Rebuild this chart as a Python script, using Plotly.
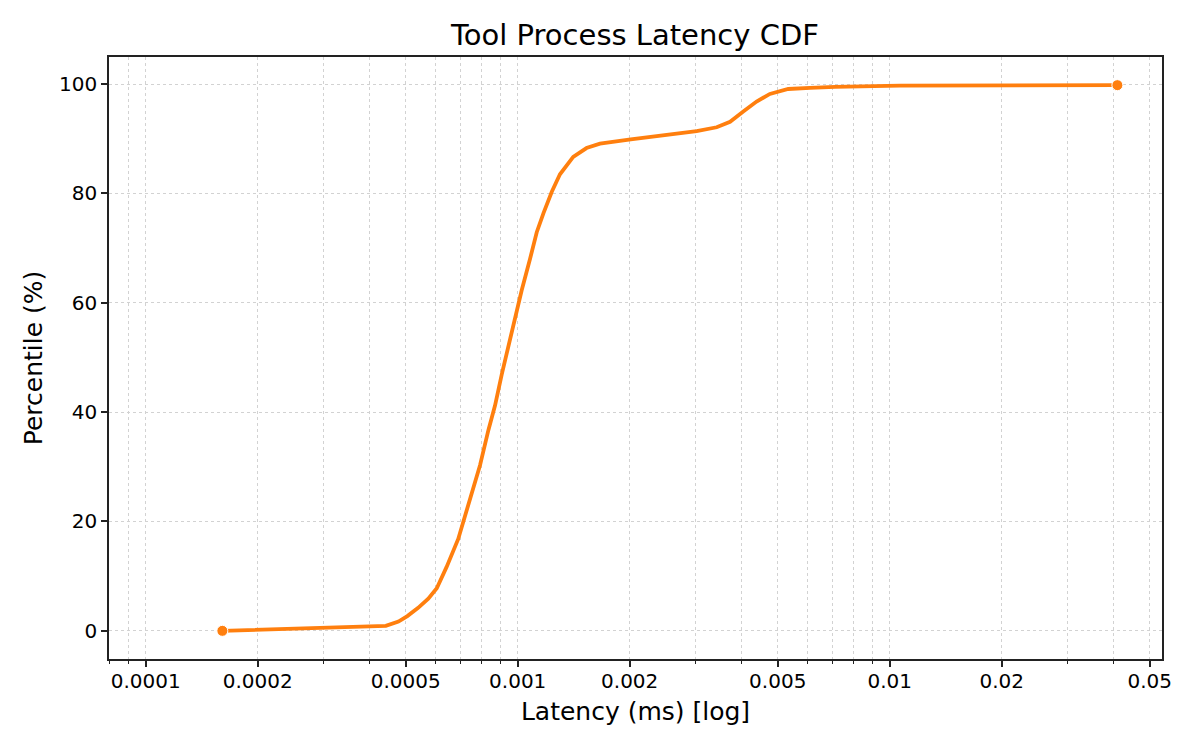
import plotly.graph_objects as go

# Data
latency_ms = [0.0001607, 0.000442, 0.000478, 0.000505, 0.000540, 0.000575, 0.000606,
              0.000644, 0.000692, 0.000729, 0.000760, 0.000792, 0.000834, 0.000869,
              0.000906, 0.000944, 0.000978, 0.001025, 0.001080, 0.001125, 0.001173,
              0.001235, 0.001299, 0.001410, 0.001531, 0.001664, 0.002013, 0.003027,
              0.003427, 0.003723, 0.004040, 0.004387, 0.004763, 0.005335, 0.006106,
              0.007126, 0.010662, 0.04093]
percentile = [0.0, 0.9, 1.7, 2.7, 4.2, 5.9, 7.8,
              11.7, 16.8, 21.9, 25.8, 30.3, 36.7, 41.2,
              46.9, 52.1, 56.5, 62.3, 68.1, 72.9, 76.4,
              80.3, 83.5, 86.7, 88.3, 89.1, 89.9, 91.4,
              92.1, 93.1, 95.0, 96.8, 98.2, 99.1, 99.3,
              99.5, 99.7, 99.8]

x_major_ticks = [0.0001, 0.0002, 0.0005, 0.001, 0.002, 0.005, 0.01, 0.02, 0.05]
x_major_labels = ["0.0001", "0.0002", "0.0005", "0.001", "0.002", "0.005", "0.01", "0.02", "0.05"]
x_minor_ticks = [0.00008, 0.00009, 0.0003, 0.0004, 0.0006, 0.0007, 0.0008, 0.0009,
                 0.003, 0.004, 0.006, 0.007, 0.008, 0.009, 0.03, 0.04]
y_ticks = [0, 20, 40, 60, 80, 100]

COLOR = "#ff7f0e"
GRID = "#d2d2d2"
AXIS = "#222222"
FONT = "DejaVu Sans"

# The page body has an 8px margin, so the figure is made 8px smaller
W, H = 1192, 742

n = len(latency_ms)
fig = go.Figure()
fig.add_trace(go.Scatter(
    x=latency_ms, y=percentile, mode="lines+markers",
    line=dict(color=COLOR, width=3.8),
    marker=dict(color=COLOR, size=[11] + [0] * (n - 2) + [11], opacity=1),
    showlegend=False, hoverinfo="x+y",
))

fig.update_layout(
    width=W, height=H,
    paper_bgcolor="white", plot_bgcolor="white",
    margin=dict(l=101, r=38, t=49, b=91),
    font=dict(family=FONT, color="black"),
    title=dict(text="Tool Process Latency CDF", x=627 / W, xanchor="center",
               y=1 - 27 / H, yanchor="middle", yref="container",
               font=dict(size=29, family=FONT, color="black")),
)

fig.update_xaxes(
    type="log", range=[-4.0987, -1.268],
    tickmode="array", tickvals=x_major_ticks, ticktext=x_major_labels,
    ticks="outside", ticklen=6, tickwidth=1.5, tickcolor=AXIS,
    ticklabelstandoff=-3,
    tickfont=dict(size=20, family=FONT, color="black"),
    showline=True, linecolor=AXIS, linewidth=1.5, mirror=True,
    showgrid=True, gridcolor=GRID, gridwidth=1.3, griddash="dot",
    minor=dict(tickvals=x_minor_ticks, ticks="outside", ticklen=3.5, tickwidth=1.2,
               tickcolor=AXIS, showgrid=True, gridcolor=GRID, gridwidth=1.3,
               griddash="dot"),
    zeroline=False,
    title=dict(text="Latency (ms) [log]", font=dict(size=25, family=FONT, color="black"),
               standoff=11),
)

fig.update_yaxes(
    range=[-5.15, 104.95],
    tickmode="array", tickvals=y_ticks, ticktext=[str(v) for v in y_ticks],
    ticks="outside", ticklen=6, tickwidth=1.5, tickcolor=AXIS,
    tickfont=dict(size=20, family=FONT, color="black"),
    showline=True, linecolor=AXIS, linewidth=1.5, mirror=True,
    showgrid=True, gridcolor=GRID, gridwidth=1.3, griddash="dot",
    zeroline=False,
    title=dict(text="Percentile (%)", font=dict(size=25, family=FONT, color="black"),
               standoff=9),
)

fig.write_html("out.html")
